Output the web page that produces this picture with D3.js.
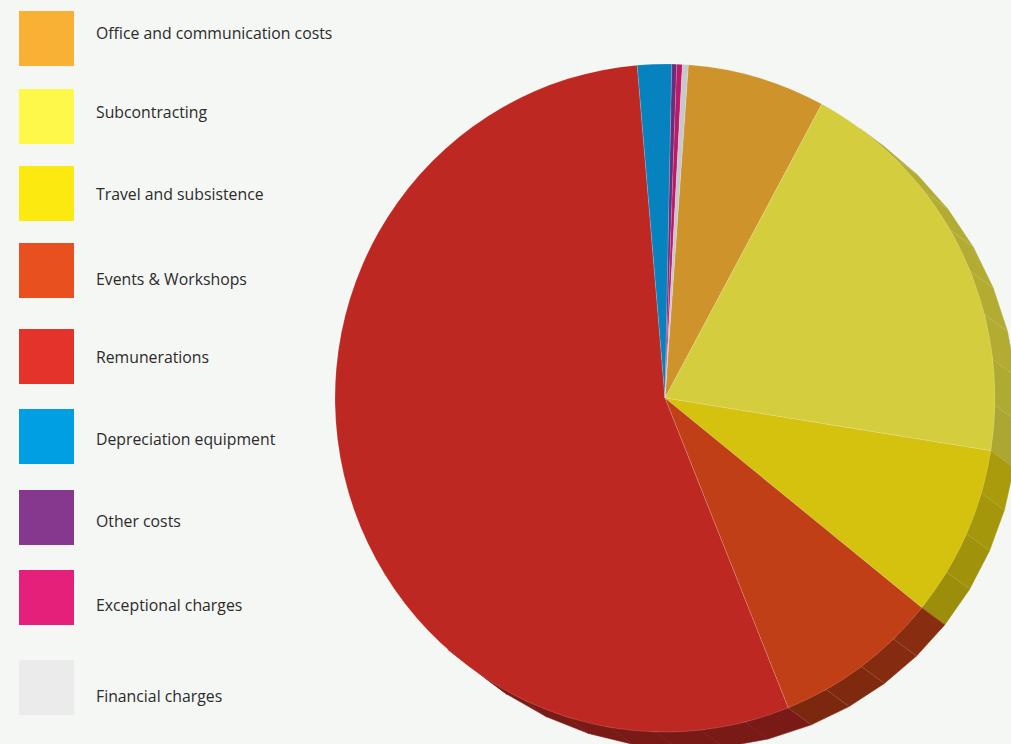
<!DOCTYPE html>
<html>
<head>
<meta charset="utf-8">
<script src="https://cdn.jsdelivr.net/npm/d3@7"></script>
<style>
  html, body { margin: 0; padding: 0; background: #f5f7f4; }
  svg { display: block; }
  text { font-family: "Open Sans", "Noto Sans", sans-serif; }
</style>
</head>
<body>
<svg id="chart" width="1011" height="744"></svg>
<script>
// ---- data ----
const categories = [
  "Office and communication costs",
  "Subcontracting",
  "Travel and subsistence",
  "Events & Workshops",
  "Remunerations",
  "Depreciation equipment",
  "Other costs",
  "Exceptional charges",
  "Financial charges"
];
const shares = [6.75, 19.64, 8.28, 8.11, 54.74, 1.67, 0.24, 0.27, 0.29];
const legendColors = ["#f8b035", "#fdf84a", "#fce90f", "#e8511f", "#e4332b", "#009fe3", "#86378e", "#e4207a", "#ebebeb"];
const faceColors   = ["#cf932c", "#d4cd3d", "#d4c20e", "#c13f17", "#bd2823", "#0683be", "#6a2d7b", "#be1868", "#c8c8cc"];

// ---- layout ----
const W = 1011, H = 744;
const cx = 665, cy = 398, rx = 330, ry = 334;
const depth = { x: 23, y: 17 };
const startOffset = 4.06 * Math.PI / 180;
const legendTops = [11, 89, 166, 243, 329, 409, 490, 570, 660];
const legendTextDy = [28, 29, 34, 42, 34, 36, 37, 41, 42];

const svg = d3.select("#chart");
svg.append("rect").attr("width", W).attr("height", H).attr("fill", "#f5f7f4");

const pie = d3.pie().sort(null).value(d => d)
  .startAngle(startOffset).endAngle(startOffset + 2 * Math.PI);
const arcs = pie(shares);

// --- side walls (3D extrusion) ---
const P = a => [cx + rx * Math.sin(a), cy - ry * Math.cos(a)];
const sideG = svg.append("g");
const lineG = svg.append("g");
const step = 8 * Math.PI / 180;
arcs.forEach((d, i) => {
  const span = d.endAngle - d.startAngle;
  const n = Math.max(1, Math.ceil(span / step));
  for (let k = 0; k < n; k++) {
    const a0 = d.startAngle + span * k / n;
    const a1 = d.startAngle + span * (k + 1) / n;
    const am = (a0 + a1) / 2;
    const nx = Math.sin(am), ny = -Math.cos(am);
    if (nx * depth.x + ny * depth.y <= -2) continue;
    const deg = ((am * 180 / Math.PI) % 360 + 360) % 360;
    let f = 0.65 + 0.2 * Math.cos((deg - 60) * Math.PI / 180);
    f = Math.max(0.64, Math.min(0.84, f));
    const c = d3.rgb(faceColors[i]);
    const col = d3.rgb(c.r * f, c.g * f, c.b * f);
    const p0 = P(a0), p1 = P(a1);
    const pts = [p0, p1, [p1[0] + depth.x, p1[1] + depth.y], [p0[0] + depth.x, p0[1] + depth.y]];
    sideG.append("path")
      .attr("d", "M" + pts.map(p => p.join(",")).join("L") + "Z")
      .attr("fill", col)
      .attr("stroke", col)
      .attr("stroke-width", 0.6);
    if (i !== 4 || k === 0) {
      lineG.append("line")
        .attr("x1", p0[0]).attr("y1", p0[1])
        .attr("x2", p0[0] + depth.x).attr("y2", p0[1] + depth.y)
        .attr("stroke", "rgba(255,255,255,0.22)")
        .attr("stroke-width", 0.6);
    }
  }
});

// --- top face ---
const arc = d3.arc().innerRadius(0).outerRadius(ry);
const face = svg.append("g")
  .attr("transform", `translate(${cx},${cy}) scale(${rx / ry},1)`);
face.selectAll("path.slice")
  .data(arcs)
  .join("path")
  .attr("class", "slice")
  .attr("d", arc)
  .attr("fill", (d, i) => faceColors[i])
  .attr("stroke", "rgba(255,255,255,0.25)")
  .attr("stroke-width", 0.6)
  .attr("vector-effect", "non-scaling-stroke");

// --- legend ---
const legend = svg.append("g");
categories.forEach((name, i) => {
  legend.append("rect")
    .attr("x", 19).attr("y", legendTops[i])
    .attr("width", 55).attr("height", 55)
    .attr("fill", legendColors[i]);
  legend.append("text")
    .attr("x", 96).attr("y", legendTops[i] + legendTextDy[i])
    .attr("fill", "#2b2b2b")
    .attr("font-size", 15.8)
    .text(name);
});
</script>
</body>
</html>
